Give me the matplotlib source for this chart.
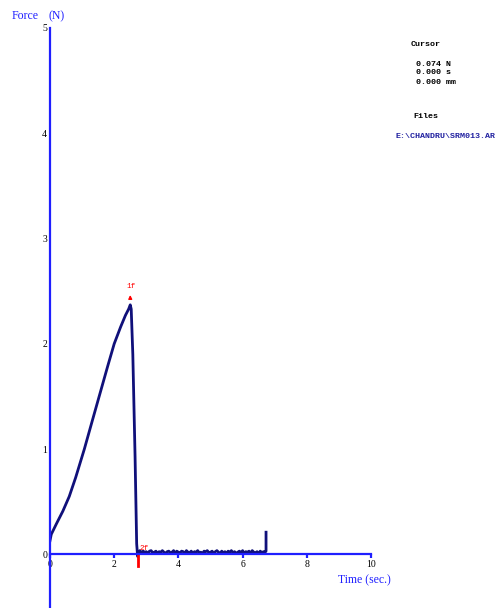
import matplotlib
matplotlib.use("Agg")
import matplotlib.pyplot as plt

# force trace (time in s, force in N): loading ramp and drop
ramp_t = [0.0, 0.04, 0.20, 0.40, 0.60, 0.80, 1.07, 1.30, 1.55, 1.80, 2.00,
          2.20, 2.35, 2.45, 2.50, 2.53, 2.58, 2.65, 2.70, 2.73]
ramp_f = [0.13, 0.19, 0.29, 0.41, 0.55, 0.73, 1.00, 1.25, 1.52, 1.79, 2.00,
          2.16, 2.27, 2.33, 2.37, 2.33, 1.90, 0.93, 0.10, -0.02]

# residual noise after failure, then the final spike
tail_t = [2.76, 2.80, 2.85, 2.90, 2.95, 3.00, 3.05, 3.10, 3.15, 3.20, 3.25,
          3.30, 3.35, 3.40, 3.45, 3.50, 3.55, 3.60, 3.65, 3.70, 3.75, 3.80,
          3.85, 3.90, 3.95, 4.00, 4.05, 4.10, 4.15, 4.20, 4.25, 4.30, 4.35,
          4.40, 4.45, 4.50, 4.55, 4.60, 4.65, 4.70, 4.75, 4.80, 4.85, 4.90,
          4.95, 5.00, 5.05, 5.10, 5.15, 5.20, 5.25, 5.30, 5.35, 5.40, 5.45,
          5.50, 5.55, 5.60, 5.65, 5.70, 5.75, 5.80, 5.85, 5.90, 5.95, 6.00,
          6.05, 6.10, 6.15, 6.20, 6.25, 6.30, 6.35, 6.40, 6.45, 6.50, 6.55,
          6.60, 6.65, 6.70, 6.73, 6.73]
tail_f = [0.02, 0.035, 0.015, 0.03, 0.02, 0.025, 0.01, 0.03, 0.035, 0.015, 0.02,
          0.03, 0.01, 0.025, 0.02, 0.035, 0.02, 0.01, 0.025, 0.03, 0.015, 0.02,
          0.035, 0.01, 0.03, 0.02, 0.015, 0.03, 0.025, 0.01, 0.035, 0.02, 0.015,
          0.03, 0.01, 0.025, 0.02, 0.035, 0.015, 0.02, 0.01, 0.03, 0.025, 0.035,
          0.015, 0.02, 0.03, 0.01, 0.025, 0.035, 0.02, 0.01, 0.03, 0.015, 0.025,
          0.01, 0.03, 0.02, 0.035, 0.015, 0.025, 0.01, 0.02, 0.03, 0.015, 0.035,
          0.01, 0.025, 0.02, 0.03, 0.01, 0.035, 0.02, 0.015, 0.025, 0.01, 0.03,
          0.015, 0.025, 0.02, 0.03, 0.21]

peak = (2.50, 2.37)
fail = (2.73, 0.0)
x_ticks = [0, 2, 4, 6, 8, 10]
y_ticks = [0, 1, 2, 3, 4, 5]

blue = "#1f1fff"
navy = "#10107a"

fig = plt.figure(figsize=(4.98, 6.08), dpi=100)
ax = fig.add_axes([50 / 498, 0, 321 / 498, 1 - 28 / 608])
ax.set_xlim(0, 10)
ax.set_ylim(-0.51, 5)

ax.plot(ramp_t + tail_t, ramp_f + tail_f, color=navy, lw=2,
        solid_joinstyle="round")

# event markers
ax.annotate("", xy=(peak[0], peak[1] + 0.12), xytext=(peak[0], peak[1] + 0.03),
            arrowprops=dict(arrowstyle="-|>", color="red", lw=1, mutation_scale=5))
ax.text(peak[0] + 0.02, peak[1] + 0.14, "1f", color="red", fontsize=5.5,
        family="Liberation Mono", ha="center", va="bottom")
ax.plot([fail[0], fail[0]], [fail[1], fail[1] - 0.11], color="red", lw=2)
ax.text(fail[0] + 0.06, fail[1] + 0.02, "2f", color="red", fontsize=5.5,
        family="Liberation Mono", ha="left", va="bottom")

for side in ["top", "right"]:
    ax.spines[side].set_visible(False)
ax.spines["bottom"].set_position(("data", 0))
ax.spines["bottom"].set_bounds(0, 10)
for side in ["left", "bottom"]:
    ax.spines[side].set_color(blue)
    ax.spines[side].set_linewidth(1.6)

ax.set_xticks(x_ticks)
ax.set_yticks(y_ticks)
ax.tick_params(axis="x", direction="out", length=3, width=1.6, color=blue,
               pad=1, labelsize=7)
ax.tick_params(axis="y", length=0, pad=2, labelsize=7)
for lab in ax.get_xticklabels() + ax.get_yticklabels():
    lab.set_family("Liberation Serif")
ax.set_facecolor("none")

fig.text(12 / 498, 1 - 16 / 608, "Force", color=blue, fontsize=8.5,
         family="Liberation Serif", va="center")
fig.text(48 / 498, 1 - 16 / 608, "(N)", color=blue, fontsize=8.5,
         family="Liberation Serif", va="center")
fig.text(391 / 498, 1 - 580 / 608, "Time (sec.)", color=blue, fontsize=8.5,
         family="Liberation Serif", va="center", ha="right")

mono = dict(family="Liberation Mono", fontsize=6, fontweight="bold", va="center")
fig.text(411 / 498, 1 - 44 / 608, "Cursor", **mono)
fig.text(416 / 498, 1 - 64 / 608, "0.074 N", **mono)
fig.text(416 / 498, 1 - 73 / 608, "0.000 s", **mono)
fig.text(416 / 498, 1 - 82 / 608, "0.000 mm", **mono)
fig.text(413 / 498, 1 - 116 / 608, "Files", **mono)
fig.text(395 / 498, 1 - 136 / 608, "E:\\CHANDRU\\SRM013.AR", color="#2020a0", **mono)

fig.savefig("out.png", dpi=100)
